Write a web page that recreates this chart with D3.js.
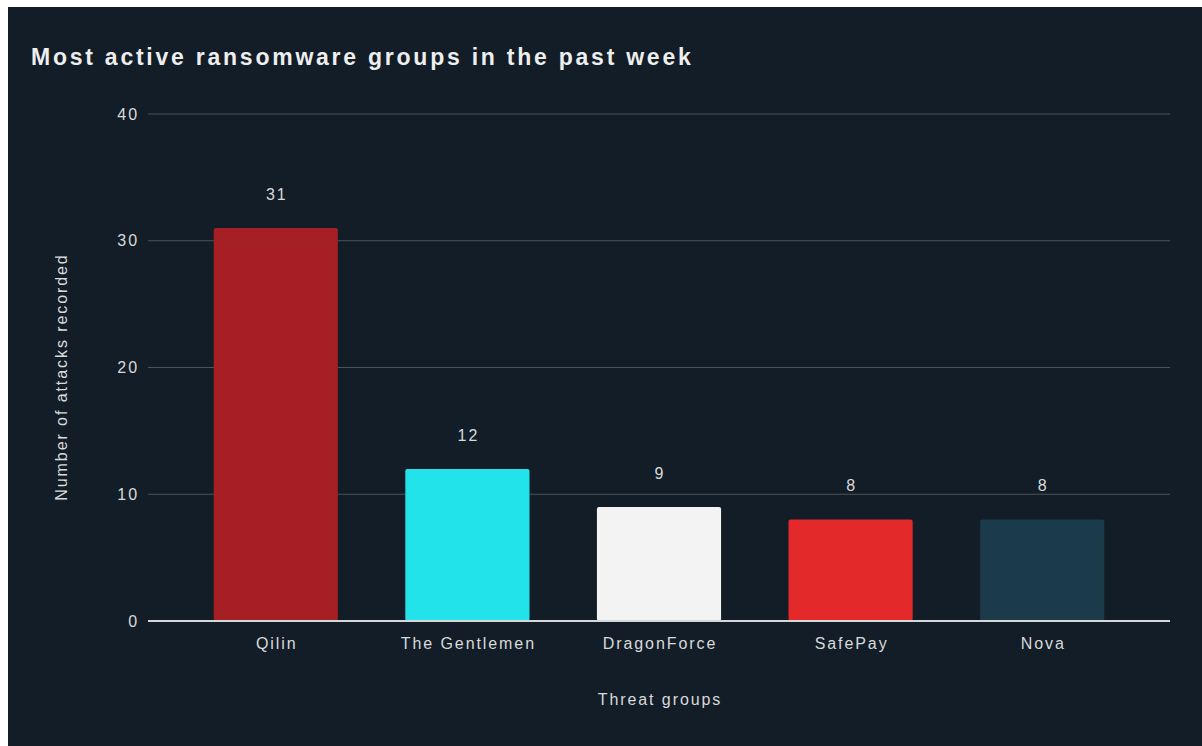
<!DOCTYPE html>
<html lang="en">
<head>
    <meta charset="UTF-8">
    <title>Most active ransomware groups</title>
    <style>
        html, body {
            margin: 0;
            padding: 0;
            background: #ffffff;
        }
        #chart {
            position: absolute;
            left: 8px;
            top: 7px;
        }
        text {
            font-family: "Liberation Sans", Arial, sans-serif;
            letter-spacing: 0.12em;
        }
    </style>
</head>
<body>

<div id="chart"></div>

<script src="https://d3js.org/d3.v7.min.js"></script>
<script>
    // chart data
    const groups = ["Qilin", "The Gentlemen", "DragonForce", "SafePay", "Nova"];
    const attacks = [31, 12, 9, 8, 8];
    const barColors = ["#a51f24", "#22e2ea", "#f3f3f3", "#e4292b", "#1b3a4a"];
    const yTicks = [0, 10, 20, 30, 40];

    const width = 1194;
    const height = 739;
    const offX = 8, offY = 7; // chart div offset in the page

    const svg = d3.select("#chart")
        .append("svg")
        .attr("width", width)
        .attr("height", height);

    svg.append("rect")
        .attr("width", width)
        .attr("height", height)
        .attr("fill", "#121d28");

    const x = d3.scaleBand()
        .domain(groups)
        .range([180 - offX, 1138 - offX])
        .paddingInner(0.352)
        .paddingOuter(0.176);

    const y = d3.scaleLinear()
        .domain([0, 40])
        .range([621 - offY, 114 - offY]);

    const plotLeft = 148 - offX;
    const plotRight = 1170 - offX;

    // gridlines
    svg.append("g")
        .selectAll("line")
        .data(yTicks.filter(d => d > 0))
        .enter()
        .append("line")
        .attr("x1", plotLeft)
        .attr("x2", plotRight)
        .attr("y1", d => y(d))
        .attr("y2", d => y(d))
        .attr("stroke", "#4a545b")
        .attr("stroke-width", 1.2);

    // y tick labels
    svg.append("g")
        .selectAll("text")
        .data(yTicks)
        .enter()
        .append("text")
        .attr("x", 139 - offX)
        .attr("y", d => y(d))
        .attr("dy", "0.35em")
        .attr("text-anchor", "end")
        .attr("font-size", 16)
        .attr("fill", "#d9dadb")
        .text(d => d);

    // bars
    svg.append("g")
        .selectAll("rect")
        .data(attacks)
        .enter()
        .append("rect")
        .attr("x", (d, i) => x(groups[i]))
        .attr("y", d => y(d))
        .attr("width", x.bandwidth())
        .attr("height", d => y(0) - y(d))
        .attr("rx", 2)
        .attr("fill", (d, i) => barColors[i]);

    // baseline
    svg.append("line")
        .attr("x1", plotLeft)
        .attr("x2", plotRight)
        .attr("y1", y(0))
        .attr("y2", y(0))
        .attr("stroke", "#d4d6d8")
        .attr("stroke-width", 2);

    // value labels
    svg.append("g")
        .selectAll("text")
        .data(attacks)
        .enter()
        .append("text")
        .attr("x", (d, i) => x(groups[i]) + x.bandwidth() / 2 + 1)
        .attr("y", d => y(d) - 34)
        .attr("dy", "0.35em")
        .attr("text-anchor", "middle")
        .attr("font-size", 16)
        .attr("fill", "#d9dadb")
        .text(d => d);

    // category labels
    svg.append("g")
        .selectAll("text")
        .data(groups)
        .enter()
        .append("text")
        .attr("x", d => x(d) + x.bandwidth() / 2 + 1)
        .attr("y", 643 - offY)
        .attr("dy", "0.35em")
        .attr("text-anchor", "middle")
        .attr("font-size", 16)
        .attr("fill", "#d9dadb")
        .text(d => d);

    // axis titles
    svg.append("text")
        .attr("x", 660 - offX)
        .attr("y", 699 - offY)
        .attr("dy", "0.35em")
        .attr("text-anchor", "middle")
        .attr("font-size", 16)
        .attr("fill", "#d9dadb")
        .text("Threat groups");

    svg.append("text")
        .attr("transform", `translate(${61 - offX},${377 - offY}) rotate(-90)`)
        .attr("dy", "0.35em")
        .attr("text-anchor", "middle")
        .attr("font-size", 16)
        .attr("fill", "#d9dadb")
        .text("Number of attacks recorded");

    // title
    svg.append("text")
        .attr("x", 31 - offX)
        .attr("y", 57 - offY)
        .attr("dy", "0.35em")
        .attr("font-size", 23)
        .attr("font-weight", "bold")
        .attr("fill", "#eeeeee")
        .text("Most active ransomware groups in the past week");
</script>

</body>
</html>
